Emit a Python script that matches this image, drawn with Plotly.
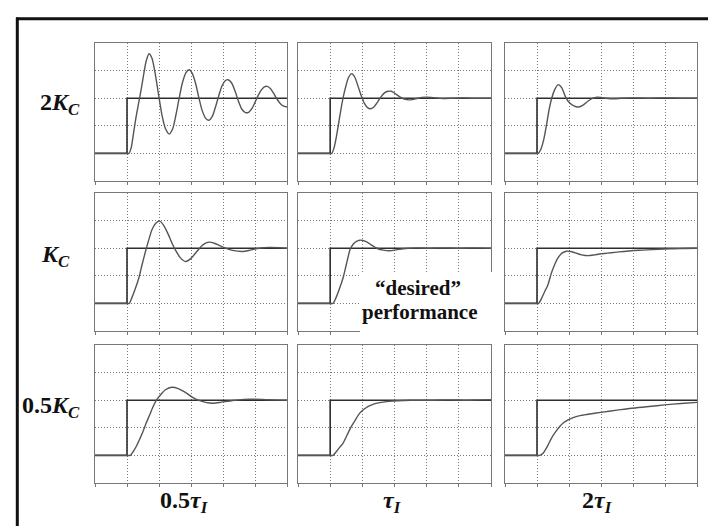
import plotly.graph_objects as go

# ---------------- data ----------------
setpoint_t = [0, 1, 1, 6]
setpoint_y = [1, 1, 3, 3]

row_labels = ["<b>2<i>K<sub>C</sub></i></b>", "<b><i>K<sub>C</sub></i></b>", "<b>0.5<i>K<sub>C</sub></i></b>"]
col_labels = ["<b>0.5<i>τ<sub>I</sub></i></b>", "<b><i>τ<sub>I</sub></i></b>", "<b>2<i>τ<sub>I</sub></i></b>"]

# 2Kc, 0.5 tauI
t_2kc_05ti = [0, 0.5, 1.0, 1.06, 1.13, 1.2, 1.28, 1.36, 1.44, 1.52, 1.6, 1.69, 1.78, 1.88, 2.0, 2.1, 2.2,
              2.32, 2.43, 2.53, 2.63, 2.73, 2.84, 2.94, 3.04, 3.14, 3.25, 3.35, 3.46, 3.56, 3.67, 3.77,
              3.87, 3.97, 4.07, 4.16, 4.27, 4.38, 4.48, 4.59, 4.7, 4.8, 4.9, 5.0, 5.1, 5.2, 5.29, 5.38,
              5.48, 5.58, 5.68, 5.78, 5.88, 6.0]
y_2kc_05ti = [1, 1, 1, 1.0, 1.2, 1.7, 2.3, 2.8, 3.3, 3.85, 4.35, 4.61, 4.45, 3.9, 3.03, 2.35, 1.9,
              1.70, 1.9, 2.4, 3.0, 3.55, 3.92, 4.03, 3.9, 3.55, 3.0, 2.55, 2.27, 2.2, 2.35, 2.7,
              3.1, 3.45, 3.63, 3.67, 3.55, 3.25, 2.9, 2.6, 2.48, 2.49, 2.62, 2.85, 3.1, 3.3, 3.41, 3.43,
              3.35, 3.18, 2.98, 2.82, 2.72, 2.68]

# 2Kc, tauI
t_2kc_1ti = [0, 0.5, 1.0, 1.05, 1.12, 1.2, 1.3, 1.39, 1.48, 1.57, 1.67, 1.77, 1.87, 1.97, 2.07, 2.16, 2.25,
             2.35, 2.47, 2.58, 2.7, 2.8, 2.9, 3.02, 3.15, 3.3, 3.45, 3.55, 3.7, 3.85, 4.0, 4.2, 4.5,
             4.8, 5.1, 5.4, 5.7, 6.0]
y_2kc_1ti = [1, 1, 1, 1.0, 1.2, 1.65, 2.35, 2.95, 3.4, 3.75, 3.89, 3.75, 3.42, 3.08, 2.8, 2.66, 2.62,
             2.67, 2.85, 3.05, 3.2, 3.25, 3.25, 3.17, 3.06, 2.97, 2.94, 2.95, 2.99, 3.03, 3.04, 3.02, 2.99,
             3.0, 3.01, 3.0, 3.0, 3.0]

# 2Kc, 2 tauI
t_2kc_2ti = [0, 0.5, 1.0, 1.04, 1.12, 1.21, 1.3, 1.38, 1.46, 1.55, 1.66, 1.77, 1.89, 2.0, 2.15, 2.3, 2.45,
             2.6, 2.75, 2.87, 3.0, 3.15, 3.29, 3.45, 3.65, 4.0, 4.5, 5.0, 5.5, 6.0]
y_2kc_2ti = [1, 1, 1, 1.0, 1.15, 1.5, 2.05, 2.6, 3.0, 3.3, 3.49, 3.38, 3.05, 2.85, 2.72, 2.68, 2.76,
             2.9, 3.0, 3.04, 3.03, 3.0, 2.98, 2.98, 3.0, 3.01, 3.0, 3.01, 3.0, 3.0]

# Kc, 0.5 tauI
t_1kc_05ti = [0, 0.5, 1.0, 1.07, 1.15, 1.25, 1.37, 1.47, 1.58, 1.68, 1.78, 1.9, 2.02, 2.15, 2.29, 2.4,
              2.52, 2.67, 2.83, 3.0, 3.19, 3.37, 3.56, 3.75, 3.9, 4.08, 4.3, 4.6, 4.85, 5.13, 5.46, 5.75, 6.0]
y_1kc_05ti = [1, 1, 1, 1.0, 1.2, 1.5, 1.92, 2.4, 2.89, 3.3, 3.67, 3.9, 3.98, 3.82, 3.5, 3.2,
              2.92, 2.65, 2.52, 2.63, 2.89, 3.12, 3.22, 3.17, 3.09, 3.0, 2.92, 2.88, 2.93, 3.0, 3.03, 3.02, 3.0]

# Kc, tauI
t_1kc_1ti = [0, 0.5, 1.0, 1.09, 1.18, 1.28, 1.4, 1.5, 1.62, 1.72, 1.82, 1.92, 2.02, 2.15, 2.3, 2.48, 2.65,
             2.85, 3.05, 3.35, 3.7, 4.0, 4.5, 5.0, 5.5, 6.0]
y_1kc_1ti = [1, 1, 1, 1.0, 1.2, 1.5, 1.92, 2.4, 2.95, 3.15, 3.25, 3.29, 3.28, 3.22, 3.1, 2.98, 2.93,
             2.91, 2.94, 2.99, 3.01, 3.0, 3.01, 3.0, 3.01, 3.0]

# Kc, 2 tauI
t_1kc_2ti = [0, 0.5, 1.0, 1.05, 1.15, 1.25, 1.34, 1.45, 1.55, 1.65, 1.78, 1.92, 2.05, 2.2, 2.4, 2.59, 2.8,
             2.95, 3.2, 3.43, 3.7, 3.94, 4.3, 4.6, 4.98, 5.3, 5.6, 6.0]
y_1kc_2ti = [1, 1, 1, 1.0, 1.2, 1.45, 1.67, 2.1, 2.4, 2.64, 2.82, 2.89, 2.88, 2.83, 2.76, 2.73, 2.76,
             2.79, 2.82, 2.85, 2.88, 2.91, 2.93, 2.95, 2.97, 2.98, 2.99, 3.0]

# 0.5Kc, 0.5 tauI
t_05kc_05ti = [0, 0.5, 1.0, 1.1, 1.2, 1.3, 1.4, 1.5, 1.6, 1.71, 1.82, 1.92, 2.05, 2.2, 2.4, 2.6, 2.87,
               3.05, 3.23, 3.45, 3.7, 3.95, 4.3, 4.65, 5.2, 5.6, 6.0]
y_05kc_05ti = [1, 1, 1, 1.0, 1.15, 1.35, 1.6, 1.87, 2.17, 2.47, 2.78, 3.0, 3.2, 3.38, 3.47, 3.42, 3.25,
               3.1, 3.0, 2.92, 2.89, 2.93, 2.99, 3.03, 3.03, 3.01, 3.0]

# 0.5Kc, tauI
t_05kc_1ti = [0, 0.5, 1.0, 1.09, 1.2, 1.3, 1.4, 1.53, 1.66, 1.79, 1.92, 2.05, 2.17, 2.35, 2.54, 2.75,
              2.95, 3.3, 3.7, 4.2, 4.7, 5.2, 5.6, 6.0]
y_05kc_1ti = [1, 1, 1, 1.0, 1.15, 1.3, 1.44, 1.75, 2.05, 2.3, 2.53, 2.67, 2.77, 2.86, 2.91, 2.95,
              2.97, 2.99, 3.0, 3.0, 3.01, 3.0, 3.01, 3.02]

# 0.5Kc, 2 tauI
t_05kc_2ti = [0, 0.5, 1.0, 1.08, 1.19, 1.32, 1.45, 1.58, 1.71, 1.84, 1.97, 2.15, 2.38, 2.7, 2.99, 3.5,
              3.95, 4.5, 4.99, 5.5, 6.0]
y_05kc_2ti = [1, 1, 1, 1.0, 1.08, 1.32, 1.62, 1.85, 2.05, 2.19, 2.29, 2.38, 2.45, 2.51, 2.56, 2.64,
              2.71, 2.77, 2.83, 2.88, 2.92]

panels = [
    [(t_2kc_05ti, y_2kc_05ti), (t_2kc_1ti, y_2kc_1ti), (t_2kc_2ti, y_2kc_2ti)],
    [(t_1kc_05ti, y_1kc_05ti), (t_1kc_1ti, y_1kc_1ti), (t_1kc_2ti, y_1kc_2ti)],
    [(t_05kc_05ti, y_05kc_05ti), (t_05kc_1ti, y_05kc_1ti), (t_05kc_2ti, y_05kc_2ti)],
]

# ---------------- layout geometry (pixels) ----------------
W, H = 716, 526
col_px = [(87, 279), (290, 483), (497, 689)]
row_px = [(35, 173), (185, 323), (337, 475)]
row_label_pos = [(52, 96), (47, 248), (43, 399)]
col_label_x = [176, 384, 589]
col_label_y = 494

def px(x):
    return x / W

def py(y):
    return 1 - y / H

fig = go.Figure()
layout_axes = {}
k = 0
for r in range(3):
    for c in range(3):
        k += 1
        xa = "x" if k == 1 else f"x{k}"
        ya = "y" if k == 1 else f"y{k}"
        t, yv = panels[r][c]
        fig.add_trace(go.Scatter(x=setpoint_t, y=setpoint_y, mode="lines",
                                 line=dict(color="#2e2e2e", width=1.6),
                                 xaxis=xa, yaxis=ya, hoverinfo="skip", showlegend=False))
        fig.add_trace(go.Scatter(x=t, y=yv, mode="lines",
                                 line=dict(color="#555555", width=1.4, shape="spline", smoothing=0.7),
                                 xaxis=xa, yaxis=ya, hoverinfo="skip", showlegend=False))
        x0, x1 = col_px[c]
        y0, y1 = row_px[r]
        sfx = "" if k == 1 else str(k)
        layout_axes[f"xaxis{sfx}"] = dict(
            domain=[px(x0), px(x1)], range=[0, 6], anchor=ya, tick0=0, dtick=1,
            showgrid=True, gridcolor="#7a7a7a", griddash="1px,2px", gridwidth=1,
            showline=True, mirror=True, linecolor="#777", linewidth=1.3,
            ticks="outside", ticklen=3, tickcolor="#777", tickwidth=1,
            showticklabels=False, zeroline=False, fixedrange=True)
        layout_axes[f"yaxis{sfx}"] = dict(
            domain=[py(y1), py(y0)], range=[0, 5], anchor=xa, tick0=0, dtick=1,
            showgrid=True, gridcolor="#7a7a7a", griddash="1px,2px", gridwidth=1,
            showline=True, mirror=True, linecolor="#777", linewidth=1.3,
            ticks="", showticklabels=False, zeroline=False, fixedrange=True)

annotations = []
for i, lab in enumerate(row_labels):
    lx, ly = row_label_pos[i]
    annotations.append(dict(text=lab, x=px(lx), y=py(ly), xref="paper", yref="paper",
                            xanchor="center", yanchor="middle", showarrow=False,
                            font=dict(family="Liberation Serif", size=24, color="#111")))
for c, lab in enumerate(col_labels):
    annotations.append(dict(text=lab, x=px(col_label_x[c]), y=py(col_label_y), xref="paper", yref="paper",
                            xanchor="center", yanchor="middle", showarrow=False,
                            font=dict(family="Liberation Serif", size=24, color="#111")))
annotations.append(dict(text="<b>“desired”</b>", x=px(410), y=py(280), xref="paper", yref="paper",
                        xanchor="center", yanchor="middle", showarrow=False,
                        font=dict(family="Liberation Serif", size=21, color="#111")))
annotations.append(dict(text="<b>performance</b>", x=px(411), y=py(304), xref="paper", yref="paper",
                        xanchor="center", yanchor="middle", showarrow=False,
                        font=dict(family="Liberation Serif", size=21, color="#111")))

shapes = [
    # white patch behind the "desired performance" text
    dict(type="rect", xref="paper", yref="paper", x0=px(352), x1=px(490), y0=py(331), y1=py(264),
         fillcolor="white", line=dict(width=0), layer="above"),
    # outer frame
    dict(type="line", xref="paper", yref="paper", x0=px(8), x1=px(716), y0=py(10.8), y1=py(10.8),
         line=dict(color="#111", width=3)),
    dict(type="line", xref="paper", yref="paper", x0=px(9.3), x1=px(9.3), y0=py(9.5), y1=py(524),
         line=dict(color="#111", width=3)),
    dict(type="line", xref="paper", yref="paper", x0=px(8), x1=px(716), y0=py(523.5), y1=py(523.5),
         line=dict(color="#d8d8d8", width=2)),
]

fig.update_layout(width=W, height=H, margin=dict(l=0, r=0, t=0, b=0),
                  paper_bgcolor="white", plot_bgcolor="white",
                  annotations=annotations, shapes=shapes, **layout_axes)

fig.write_html("out.html")
